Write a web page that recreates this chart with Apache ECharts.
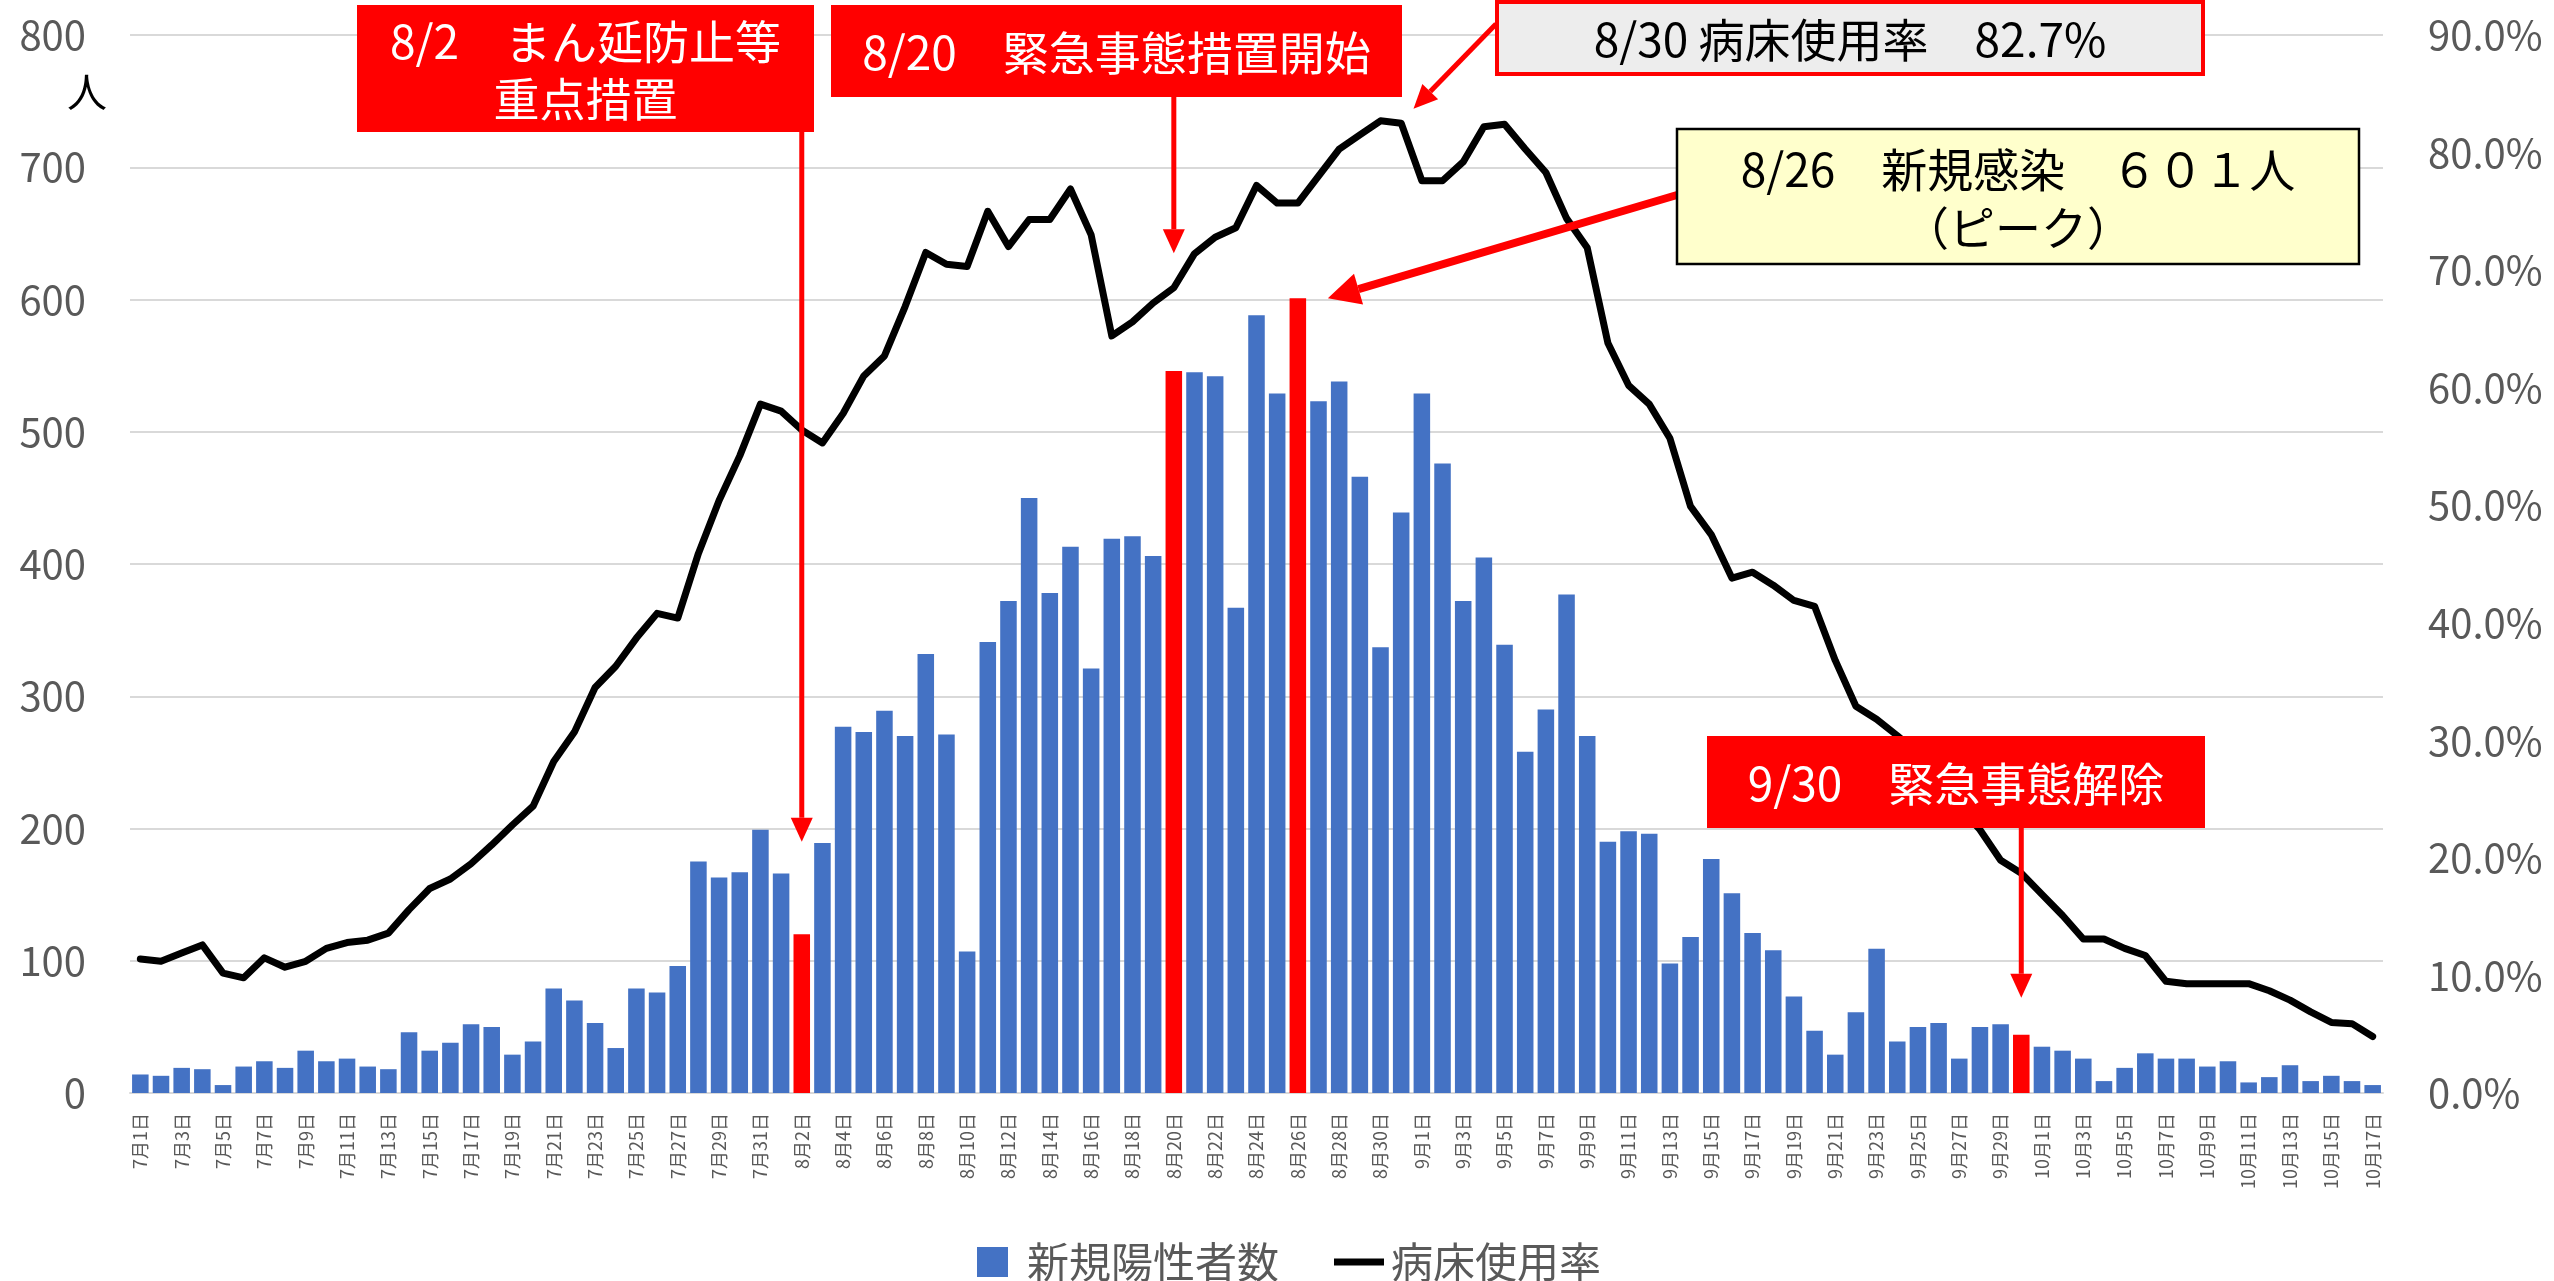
<!DOCTYPE html>
<html>
<head>
<meta charset="utf-8">
<script src="https://cdn.jsdelivr.net/npm/echarts@6/dist/echarts.min.js"></script>
<style>
  html, body { margin: 0; padding: 0; background: #fff; }
  #chart { width: 2554px; height: 1281px; }
</style>
</head>
<body>
<div id="chart"></div>
<script>
// months shown on the x axis: [month, days]
const months = [[7, 31], [8, 31], [9, 30], [10, 17]];

// 新規陽性者数 (人) per day
const newCasesJul = [14, 13, 19, 18, 6, 20, 24, 19, 32, 24, 26, 20, 18, 46, 32, 38, 52, 50, 29, 39, 79, 70, 53, 34, 79, 76, 96, 175, 163, 167, 199];
const newCasesAug = [166, 120, 189, 277, 273, 289, 270, 332, 271, 107, 341, 372, 450, 378, 413, 321, 419, 421, 406, 546, 545, 542, 367, 588, 529, 601, 523, 538, 466, 337, 439];
const newCasesSep = [529, 476, 372, 405, 339, 258, 290, 377, 270, 190, 198, 196, 98, 118, 177, 151, 121, 108, 73, 47, 29, 61, 109, 39, 50, 53, 26, 50, 52, 44];
const newCasesOct = [35, 32, 26, 9, 19, 30, 26, 26, 20, 24, 8, 12, 21, 9, 13, 9, 6];

// 病床使用率 (%) per day
const bedRateJul = [11.4, 11.2, 11.9, 12.6, 10.2, 9.8, 11.5, 10.7, 11.2, 12.3, 12.8, 13.0, 13.6, 15.6, 17.4, 18.2, 19.5, 21.1, 22.8, 24.4, 28.2, 30.7, 34.5, 36.3, 38.7, 40.8, 40.4, 45.9, 50.4, 54.2, 58.6];
const bedRateAug = [58.0, 56.4, 55.3, 57.8, 61.0, 62.7, 66.9, 71.5, 70.5, 70.3, 75.0, 72.0, 74.3, 74.3, 76.9, 73.0, 64.4, 65.6, 67.2, 68.5, 71.4, 72.8, 73.6, 77.2, 75.7, 75.7, 78.0, 80.3, 81.5, 82.7, 82.5];
const bedRateSep = [77.6, 77.6, 79.2, 82.2, 82.4, 80.3, 78.3, 74.4, 71.9, 63.8, 60.2, 58.6, 55.7, 49.9, 47.5, 43.8, 44.3, 43.2, 41.9, 41.4, 36.8, 32.9, 31.8, 30.4, 28.9, 26.6, 24.3, 22.4, 19.8, 18.7];
const bedRateOct = [16.9, 15.1, 13.1, 13.1, 12.3, 11.7, 9.5, 9.3, 9.3, 9.3, 9.3, 8.7, 7.9, 6.9, 6.0, 5.9, 4.8];

// days drawn in red
const highlightDays = ['8月2日', '8月20日', '8月26日', '9月30日'];

const leftTicks = { min: 0, max: 800, interval: 100 };
const rightTicks = { min: 0, max: 90, interval: 10 };

const FONT = '"Noto Sans CJK JP", "Noto Sans", sans-serif';
const BLUE = '#4472c4', RED = '#ff0000', GREY_TXT = '#595959', GRID = '#d9d9d9';

const categories = [];
months.forEach(([m, n]) => { for (let d = 1; d <= n; d++) categories.push(m + '月' + d + '日'); });
const newCases = newCasesJul.concat(newCasesAug, newCasesSep, newCasesOct);
const bedRate = bedRateJul.concat(bedRateAug, bedRateSep, bedRateOct);

const barData = newCases.map((v, i) =>
  highlightDays.includes(categories[i]) ? { value: v, itemStyle: { color: RED } } : v);

const chart = echarts.init(document.getElementById('chart'));
chart.setOption({
  animation: false,
  backgroundColor: '#fff',
  textStyle: { fontFamily: FONT },
  grid: { left: 130, right: 171, top: 35, bottom: 188, containLabel: false },
  legend: [
    { data: [{ name: '新規陽性者数', icon: 'rect' }], left: 972, top: 1236, itemWidth: 31, itemHeight: 30,
      textStyle: { fontSize: 42, color: GREY_TXT, fontFamily: FONT, padding: [0, 0, 0, 14] } },
    { data: [{ name: '病床使用率', icon: 'rect' }], left: 1329, top: 1236, itemWidth: 50, itemHeight: 7,
      textStyle: { fontSize: 42, color: GREY_TXT, fontFamily: FONT, padding: [0, 0, 0, 2] } }
  ],
  xAxis: {
    type: 'category', data: categories, boundaryGap: true,
    axisLine: { lineStyle: { color: GRID, width: 2 } },
    axisTick: { interval: 1, length: 8, lineStyle: { color: GRID, width: 2 } },
    axisLabel: { interval: 1, rotate: 90, fontSize: 18, color: GREY_TXT, margin: 20, fontFamily: FONT }
  },
  yAxis: [
    { type: 'value', ...leftTicks,
      axisLine: { show: false }, axisTick: { show: false },
      splitLine: { lineStyle: { color: GRID, width: 2 } },
      axisLabel: { fontSize: 40, color: GREY_TXT, margin: 44, fontFamily: FONT } },
    { type: 'value', ...rightTicks,
      axisLine: { show: false }, axisTick: { show: false }, splitLine: { show: false },
      axisLabel: { fontSize: 40, color: GREY_TXT, margin: 45, fontFamily: FONT,
        formatter: v => v.toFixed(1) + '%' } }
  ],
  series: [
    { name: '新規陽性者数', type: 'bar', data: barData, barCategoryGap: '20%',
      itemStyle: { color: BLUE }, z: 2 },
    { name: '病床使用率', type: 'line', yAxisIndex: 1, data: bedRate, symbol: 'none',
      lineStyle: { color: '#000', width: 7, cap: 'round', join: 'round' },
      itemStyle: { color: '#000' }, z: 3 }
  ]
});

// annotation helpers
function px(cat, v, axis) {
  return chart.convertToPixel({ xAxisIndex: 0, yAxisIndex: axis || 0 }, [cat, v]);
}
function arrow(x1, y1, x2, y2, w, headLen, headW) {
  const dx = x2 - x1, dy = y2 - y1, len = Math.hypot(dx, dy);
  const ux = dx / len, uy = dy / len, nx = -uy, ny = ux;
  const bx = x2 - ux * headLen, by = y2 - uy * headLen;
  return [
    { type: 'line', z: 100, shape: { x1, y1, x2: bx, y2: by }, style: { stroke: RED, lineWidth: w } },
    { type: 'polygon', z: 100, shape: { points: [[x2, y2], [bx + nx * headW / 2, by + ny * headW / 2], [bx - nx * headW / 2, by - ny * headW / 2]] },
      style: { fill: RED } }
  ];
}
function box(x, y, w, h, fill, stroke, lw, text, color, lineHeight) {
  return [
    { type: 'rect', z: 101, shape: { x, y, width: w, height: h },
      style: { fill, stroke: stroke || null, lineWidth: lw || 0 } },
    { type: 'text', z: 102, x: x + w / 2, y: y + h / 2 + 2,
      style: { text, fill: color, font: '46px ' + FONT, align: 'center', verticalAlign: 'middle', lineHeight: lineHeight || 58 } }
  ];
}

const p82 = px('8月2日', 190);
const p820 = px('8月20日', 635);
const p830 = px('8月30日', 82.7, 1);
const p826 = px('8月26日', 601);
const p930 = px('9月30日', 72);

const graphics = [].concat(
  arrow(p82[0], 130, p82[0], p82[1], 5, 24, 22),
  arrow(p820[0], 95, p820[0], p820[1], 5, 24, 22),
  arrow(1496, 24, p830[0] + 33, p830[1] - 12, 5, 24, 22),
  arrow(1677, 195, p826[0] + 30, p826[1], 8, 32, 32),
  arrow(p930[0], 826, p930[0], p930[1], 5, 24, 22),
  box(357, 5, 457, 127, RED, null, 0, '8/2　まん延防止等\n重点措置', '#fff', 57),
  box(831, 5, 571, 92, RED, null, 0, '8/20　緊急事態措置開始', '#fff'),
  box(1497, 2, 706, 72, '#ededed', RED, 4, '8/30 病床使用率　82.7%', '#000'),
  box(1677, 129, 682, 135, '#ffffcc', '#000', 2.5, '8/26　新規感染　６０１人\n（ピーク）', '#000', 58),
  box(1707, 736, 498, 92, RED, null, 0, '9/30　緊急事態解除', '#fff'),
  [{ type: 'text', z: 102, x: 87, y: 92,
     style: { text: '人', fill: '#000', font: '40px ' + FONT, align: 'center', verticalAlign: 'middle' } }]
);
chart.setOption({ graphic: graphics });
</script>
</body>
</html>
